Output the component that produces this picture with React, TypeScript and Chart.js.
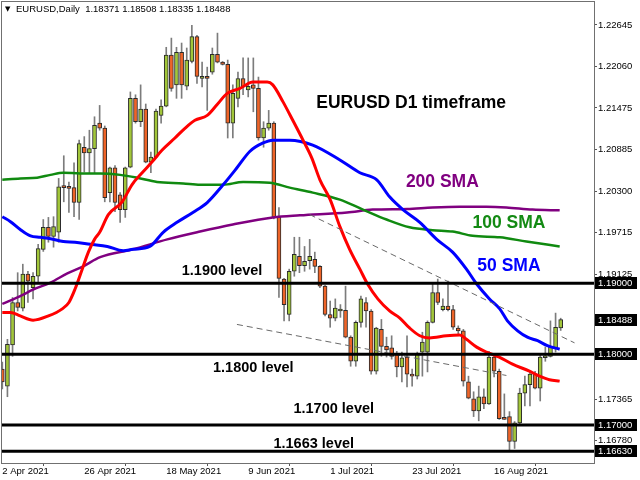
import React, { useEffect, useRef } from 'react';
import { Chart, registerables } from 'chart.js';

Chart.register(...registerables);

// Daily candles, index 0 = 2 Apr 2021 ... index 109 = 2 Sep 2021
const OPEN = [
  1.1779, 1.1755, 1.1813, 1.1873, 1.1865, 1.1913, 1.1894, 1.1910, 1.1948, 1.1979,
  1.1966, 1.1972, 1.2036, 1.2035, 1.2035, 1.2014, 1.2092, 1.2084, 1.2090, 1.2126,
  1.2119, 1.2028, 1.2063, 1.2025, 1.2004, 1.2064, 1.2161, 1.2128, 1.2146, 1.2071,
  1.2078, 1.2137, 1.2150, 1.2222, 1.2180, 1.2226, 1.2178, 1.2213, 1.2248, 1.2189,
  1.2192, 1.2198, 1.2223, 1.2212, 1.2209, 1.2126, 1.2161, 1.2189, 1.2173, 1.2180,
  1.2175, 1.2105, 1.2119, 1.2126, 1.1993, 1.1906, 1.1856, 1.1917, 1.1938, 1.1925,
  1.1932, 1.1934, 1.1924, 1.1896, 1.1856, 1.1851, 1.1861, 1.1862, 1.1824, 1.1790,
  1.1845, 1.1873, 1.1861, 1.1776, 1.1835, 1.1811, 1.1809, 1.1800, 1.1782, 1.1796,
  1.1772, 1.1769, 1.1803, 1.1803, 1.1845, 1.1887, 1.1863, 1.1868, 1.1863, 1.1837,
  1.1833, 1.1761, 1.1737, 1.1720, 1.1740, 1.1730, 1.1796, 1.1776, 1.1710, 1.1712,
  1.1677, 1.1703, 1.1745, 1.1757, 1.1772, 1.1752, 1.1795, 1.1797, 1.1809, 1.18371,
];
const HIGH = [
  1.1789, 1.1821, 1.1880, 1.1915, 1.1927, 1.1917, 1.1915, 1.1955, 1.1990, 1.1993,
  1.1994, 1.2048, 1.2080, 1.2043, 1.2070, 1.2102, 1.2107, 1.2116, 1.2135, 1.2151,
  1.2122, 1.2064, 1.2066, 1.2028, 1.2064, 1.2170, 1.2166, 1.2180, 1.2153, 1.2085,
  1.2146, 1.2159, 1.2233, 1.2246, 1.2233, 1.2239, 1.2232, 1.2264, 1.2250, 1.2212,
  1.2205, 1.2232, 1.2253, 1.2213, 1.2215, 1.2180, 1.2198, 1.2218, 1.2218, 1.2218,
  1.2191, 1.2128, 1.2144, 1.2128, 1.2007, 1.1907, 1.1920, 1.1965, 1.1965, 1.1952,
  1.1962, 1.1944, 1.1925, 1.1897, 1.1875, 1.1878, 1.1870, 1.1896, 1.1826, 1.1847,
  1.1882, 1.1880, 1.1863, 1.1838, 1.1849, 1.1824, 1.1826, 1.1804, 1.1803, 1.1826,
  1.1779, 1.1803, 1.1831, 1.1847, 1.1901, 1.1906, 1.1878, 1.1903, 1.1869, 1.1840,
  1.1835, 1.1769, 1.1747, 1.1755, 1.1751, 1.1804, 1.1799, 1.1779, 1.1744, 1.1719,
  1.1705, 1.1752, 1.1769, 1.1776, 1.1776, 1.1799, 1.1810, 1.1847, 1.1858, 1.18508,
];
const LOW = [
  1.1751, 1.1740, 1.1797, 1.1861, 1.1861, 1.1873, 1.1878, 1.1901, 1.1945, 1.1958,
  1.1951, 1.1958, 1.2015, 1.2000, 1.1994, 1.1990, 1.2057, 1.2056, 1.2056, 1.2116,
  1.2015, 1.2015, 1.2001, 1.1986, 1.1993, 1.2063, 1.2126, 1.2121, 1.2070, 1.2056,
  1.2077, 1.2126, 1.2149, 1.2171, 1.2161, 1.2161, 1.2173, 1.2211, 1.2182, 1.2177,
  1.2144, 1.2195, 1.2211, 1.2208, 1.2105, 1.2105, 1.2149, 1.2166, 1.2163, 1.2142,
  1.2102, 1.2092, 1.2116, 1.1991, 1.1880, 1.1847, 1.1847, 1.1910, 1.1915, 1.1917,
  1.1920, 1.1915, 1.1894, 1.1854, 1.1838, 1.1847, 1.1852, 1.1823, 1.1783, 1.1783,
  1.1838, 1.1838, 1.1772, 1.1772, 1.1797, 1.1796, 1.1793, 1.1768, 1.1761, 1.1754,
  1.1755, 1.1765, 1.1769, 1.1775, 1.1844, 1.1870, 1.1861, 1.1861, 1.1835, 1.1828,
  1.1755, 1.1737, 1.1712, 1.1706, 1.1723, 1.1729, 1.1768, 1.1708, 1.1708, 1.1665,
  1.1667, 1.1702, 1.1727, 1.1727, 1.1751, 1.1734, 1.1790, 1.1796, 1.1803, 1.18335,
];
const CLOSE = [
  1.1761, 1.1814, 1.1873, 1.1866, 1.1913, 1.1903, 1.1910, 1.1949, 1.1979, 1.1966,
  1.1980, 1.2036, 1.2035, 1.2034, 1.2014, 1.2097, 1.2084, 1.2090, 1.2123, 1.2119,
  1.2021, 1.2063, 1.2014, 1.2004, 1.2063, 1.2161, 1.2128, 1.2146, 1.2071, 1.2078,
  1.2143, 1.2150, 1.2222, 1.2175, 1.2226, 1.2180, 1.2215, 1.2248, 1.2192, 1.2192,
  1.2189, 1.2223, 1.2212, 1.2209, 1.2126, 1.2168, 1.2189, 1.2177, 1.2178, 1.2175,
  1.2105, 1.2119, 1.2126, 1.1993, 1.1907, 1.1870, 1.1917, 1.1941, 1.1925, 1.1931,
  1.1938, 1.1924, 1.1896, 1.1856, 1.1851, 1.1865, 1.1863, 1.1824, 1.1790, 1.1845,
  1.1878, 1.1861, 1.1776, 1.1837, 1.1811, 1.1806, 1.1797, 1.1782, 1.1795, 1.1772,
  1.1769, 1.1800, 1.1817, 1.1845, 1.1887, 1.1873, 1.1868, 1.1863, 1.1838, 1.1833,
  1.1762, 1.1738, 1.1720, 1.1740, 1.1730, 1.1796, 1.1776, 1.1709, 1.1708, 1.1677,
  1.1703, 1.1745, 1.1757, 1.1772, 1.1752, 1.1796, 1.1797, 1.1811, 1.1838, 1.18488,
];

const X_TICK_INDEX = [0, 16, 32, 48, 64, 80, 96];
const X_TICK_LABELS = ['2 Apr 2021', '26 Apr 2021', '18 May 2021', '9 Jun 2021', '1 Jul 2021', '23 Jul 2021', '16 Aug 2021'];
const Y_TICKS = [1.22645, 1.2206, 1.21475, 1.20885, 1.203, 1.19715, 1.19125, 1.17365, 1.1678];

// moving averages: [bar index, price]
const SMA20: [number, number][] = [
  [0, 1.1859], [1.6, 1.1859], [3.5, 1.1854], [6, 1.1848], [9, 1.1854], [11.7, 1.1864], [13, 1.1873],
  [14.2, 1.1892], [15.6, 1.192], [16.8, 1.1944], [18, 1.1962], [19, 1.1972], [20.7, 1.1997], [23.4, 1.2015],
  [25.3, 1.2039], [27.3, 1.2056], [29.2, 1.2071], [31.2, 1.2088], [33.7, 1.2105], [35.7, 1.2119], [37.6, 1.213],
  [40, 1.2137], [41.9, 1.2152], [43.9, 1.2168], [46.4, 1.2175], [48.9, 1.2184], [51.7, 1.2184], [52.8, 1.218],
  [54.8, 1.2156], [56.7, 1.213], [58.7, 1.2102], [60.4, 1.2077], [62, 1.2046], [64, 1.2018], [65.9, 1.198],
  [67.8, 1.1948], [69.8, 1.192], [71.3, 1.1899], [73.3, 1.1878], [75.6, 1.1861], [77.6, 1.1851], [79.5, 1.1837],
  [81.5, 1.1826], [83.4, 1.1823], [86.7, 1.1826], [89.3, 1.1827], [90.6, 1.1821], [92.6, 1.181], [94.5, 1.1803],
  [97, 1.1796], [99.6, 1.1786], [102.9, 1.1776], [104.9, 1.1769], [106.8, 1.1764], [108.8, 1.1762],
];
const SMA50: [number, number][] = [
  [0, 1.1994], [1.6, 1.1987], [3.5, 1.1976], [5.5, 1.1967], [7.4, 1.1965], [9.4, 1.1963], [11.9, 1.1959],
  [14.2, 1.1958], [17.2, 1.1955], [20.5, 1.1952], [23.6, 1.1946], [25.5, 1.1948], [28.8, 1.1952], [31.4, 1.1972],
  [34.1, 1.1986], [37.2, 1.2], [40, 1.2014], [43.1, 1.2039], [45.8, 1.2063], [48.3, 1.2086], [50.9, 1.2098],
  [52.8, 1.2102], [56.1, 1.2102], [60.6, 1.2095], [65.9, 1.2074], [69.8, 1.2056], [73.1, 1.2046], [75.6, 1.2022],
  [78.2, 1.2004], [81.5, 1.1986], [84.8, 1.1962], [87.9, 1.1944], [90.6, 1.192], [92.6, 1.1899], [95.1, 1.1878],
  [97.1, 1.1864], [98.6, 1.1847], [100.6, 1.1833], [102.5, 1.1824], [104.5, 1.1819], [106.4, 1.1812], [108.8, 1.1807],
];
const SMA100: [number, number][] = [
  [0, 1.2046], [3.5, 1.2048], [6.8, 1.2049], [9.4, 1.2053], [11.9, 1.2056], [15.2, 1.2055], [19.1, 1.2055],
  [23, 1.2053], [26.3, 1.2049], [30.2, 1.2043], [35.3, 1.2041], [38.6, 1.2039], [43.1, 1.2039], [47, 1.2043],
  [52.2, 1.2042], [56.1, 1.2035], [60.6, 1.2028], [65.9, 1.2018], [70.4, 1.2004], [75, 1.199], [79.5, 1.1979],
  [84, 1.1975], [87.9, 1.1973], [91.8, 1.1967], [97.1, 1.1965], [102.3, 1.1959], [108.8, 1.1952],
];
const SMA200: [number, number][] = [
  [0, 1.1871], [3.5, 1.1882], [6, 1.1891], [9.4, 1.1901], [12.7, 1.1914], [15.8, 1.1924], [19.1, 1.1937],
  [25.5, 1.1948], [32.2, 1.1962], [38.6, 1.1973], [45, 1.1983], [52.8, 1.1993], [58.1, 1.1996], [67.3, 1.2],
  [72.3, 1.2004], [79, 1.2005], [84, 1.2007], [89.3, 1.2008], [94.5, 1.2008], [98.4, 1.2007], [103.5, 1.2004],
  [108.8, 1.2003],
];
const TREND_UPPER: [number, number][] = [[60, 1.1997], [111.7, 1.1816]];
const TREND_LOWER: [number, number][] = [[45.8, 1.1842], [98.4, 1.177]];
const LEVELS = [1.19, 1.18, 1.17, 1.1663];
const PRICE_TAGS = [1.19, 1.18, 1.17, 1.1663, 1.18488];
const HEADER = 'EURUSD,Daily  1.18371 1.18508 1.18335 1.18488';

const NOTES = [
  { text: 'EURUSD D1 timeframe', x: 79.8, y: 1.2154, color: '#000000', size: 17.5 },
  { text: '200 SMA', x: 85.9, y: 1.2042, color: '#800080', size: 17.5 },
  { text: '100 SMA', x: 98.9, y: 1.1985, color: '#138a13', size: 17.5 },
  { text: '50 SMA', x: 98.9, y: 1.1924, color: '#0000ff', size: 17.5 },
  { text: '1.1900 level', x: 42.9, y: 1.1917, color: '#000000', size: 14.5 },
  { text: '1.1800 level', x: 49.0, y: 1.1781, color: '#000000', size: 14.5 },
  { text: '1.1700 level', x: 64.7, y: 1.1722, color: '#000000', size: 14.5 },
  { text: '1.1663 level', x: 60.8, y: 1.1673, color: '#000000', size: 14.5 },
];

const FONT = 'Liberation Sans, Arial, sans-serif';
const BULL = '#a2c63a';
const BEAR = '#ee6428';

const toPts = (arr: [number, number][]) => arr.map(([x, y]) => ({ x, y }));

export default function App() {
  const ref = useRef<HTMLCanvasElement | null>(null);

  useEffect(() => {
    if (!ref.current) return;
    const idx = OPEN.map((_, i) => i);
    const bodyColors = idx.map((i) => (CLOSE[i] >= OPEN[i] ? BULL : BEAR));

    const frame = {
      id: 'frame',
      afterDatasetsDraw(chart: any) {
        const { ctx, chartArea: a } = chart;
        ctx.save();
        ctx.strokeStyle = '#707070';
        ctx.lineWidth = 1;
        ctx.strokeRect(a.left - 0.5, a.top - 0.5, a.right - a.left + 1, a.bottom - a.top + 1);
        ctx.restore();
      },
    };

    const notes = {
      id: 'notes',
      afterDatasetsDraw(chart: any) {
        const { ctx } = chart;
        const xs = chart.scales.x;
        const ys = chart.scales.y;
        ctx.save();
        ctx.textAlign = 'center';
        ctx.textBaseline = 'middle';
        NOTES.forEach((n) => {
          ctx.font = `bold ${n.size}px ${FONT}`;
          ctx.fillStyle = n.color;
          ctx.fillText(n.text, xs.getPixelForValue(n.x), ys.getPixelForValue(n.y));
        });
        ctx.restore();
      },
    };

    const tags = {
      id: 'tags',
      afterDraw(chart: any) {
        const { ctx, chartArea: a } = chart;
        const ys = chart.scales.y;
        ctx.save();
        ctx.font = `9.5px ${FONT}`;
        ctx.textBaseline = 'middle';
        ctx.textAlign = 'left';
        PRICE_TAGS.forEach((v) => {
          const y = Math.round(ys.getPixelForValue(v));
          ctx.fillStyle = '#000';
          ctx.fillRect(a.right + 1, y - 6, 42, 12);
          ctx.fillStyle = '#fff';
          ctx.fillText(v.toFixed(5), a.right + 4, y + 0.5);
        });
        // header line
        ctx.fillStyle = '#000';
        ctx.font = `7px DejaVu Sans, ${FONT}`;
        ctx.fillText('▼', a.left + 3, 9);
        ctx.font = `9.5px ${FONT}`;
        ctx.fillText(HEADER, a.left + 14, 9);
        ctx.restore();
      },
    };

    const zeroPad = (s: any) => {
      s.paddingTop = 0;
      s.paddingBottom = 0;
      s.paddingLeft = 0;
      s.paddingRight = 0;
    };

    const chart = new Chart(ref.current, {
      type: 'bar',
      data: {
        datasets: [
          {
            type: 'bar',
            data: idx.map((i) => ({ x: i, y: [LOW[i], HIGH[i]] })) as any,
            backgroundColor: '#7c7c7c',
            borderWidth: 0,
            barThickness: 1,
            grouped: false,
            order: 10,
          } as any,
          {
            type: 'bar',
            data: idx.map((i) => ({ x: i, y: [OPEN[i], CLOSE[i]] })) as any,
            backgroundColor: bodyColors,
            borderColor: '#2a2a2a',
            borderWidth: 1,
            borderSkipped: false,
            barThickness: 4,
            minBarLength: 2,
            grouped: false,
            order: 9,
          } as any,
          {
            type: 'line', data: toPts(SMA200) as any, borderColor: '#800080', borderWidth: 2.5,
            pointRadius: 0, cubicInterpolationMode: 'monotone', order: 8,
          } as any,
          {
            type: 'line', data: toPts(SMA100) as any, borderColor: '#108a10', borderWidth: 2.5,
            pointRadius: 0, cubicInterpolationMode: 'monotone', order: 7,
          } as any,
          {
            type: 'line', data: toPts(SMA50) as any, borderColor: '#0000ff', borderWidth: 3,
            pointRadius: 0, cubicInterpolationMode: 'monotone', order: 6,
          } as any,
          {
            type: 'line', data: toPts(SMA20) as any, borderColor: '#ff0000', borderWidth: 3,
            pointRadius: 0, cubicInterpolationMode: 'monotone', order: 5,
          } as any,
          {
            type: 'line', data: toPts(TREND_UPPER) as any, borderColor: '#6a6a6a', borderWidth: 1,
            borderDash: [6, 4], pointRadius: 0, order: 3,
          } as any,
          {
            type: 'line', data: toPts(TREND_LOWER) as any, borderColor: '#6a6a6a', borderWidth: 1,
            borderDash: [6, 4], pointRadius: 0, order: 3,
          } as any,
          ...LEVELS.map((v) => ({
            type: 'line',
            data: [{ x: -2, y: v }, { x: 118, y: v }],
            borderColor: '#000000',
            borderWidth: 3,
            pointRadius: 0,
            clip: 0,
            order: 1,
          } as any)),
        ],
      },
      options: {
        animation: false,
        responsive: false,
        maintainAspectRatio: false,
        events: [],
        layout: { padding: { left: 2, top: 2, right: 0, bottom: 0 } },
        plugins: { legend: { display: false }, tooltip: { enabled: false }, title: { display: false } },
        scales: {
          x: {
            type: 'linear',
            min: -0.06,
            max: 115.5,
            offset: false,
            border: { display: false },
            grid: { display: true, drawOnChartArea: false, drawTicks: true, tickLength: 3, color: '#555' },
            afterBuildTicks: (s: any) => {
              s.ticks = X_TICK_INDEX.map((v) => ({ value: v }));
            },
            afterFit: (s: any) => {
              s.height = 17;
              zeroPad(s);
            },
            ticks: {
              autoSkip: false,
              maxRotation: 0,
              minRotation: 0,
              align: 'start',
              padding: 0,
              color: '#000',
              font: { family: FONT, size: 9.5 },
              callback: (_v: any, i: number) => X_TICK_LABELS[i],
            },
          } as any,
          y: {
            type: 'linear',
            position: 'right',
            min: 1.16465,
            max: 1.22969,
            border: { display: false },
            grid: { display: true, drawOnChartArea: false, drawTicks: true, tickLength: 3, color: '#555' },
            afterBuildTicks: (s: any) => {
              s.ticks = Y_TICKS.map((v) => ({ value: v }));
            },
            afterFit: (s: any) => {
              s.width = 46;
              zeroPad(s);
            },
            ticks: {
              autoSkip: false,
              padding: 1,
              color: '#000',
              font: { family: FONT, size: 9.5 },
              callback: (v: any) => Number(v).toFixed(5),
            },
          } as any,
        },
      },
      plugins: [frame, notes, tags],
    });

    return () => chart.destroy();
  }, []);

  return (
    <div style={{ position: 'absolute', left: 0, top: 0, width: 640, height: 480, background: '#fff' }}>
      <canvas ref={ref} width={640} height={480} style={{ display: 'block', width: 640, height: 480 }} />
    </div>
  );
}
